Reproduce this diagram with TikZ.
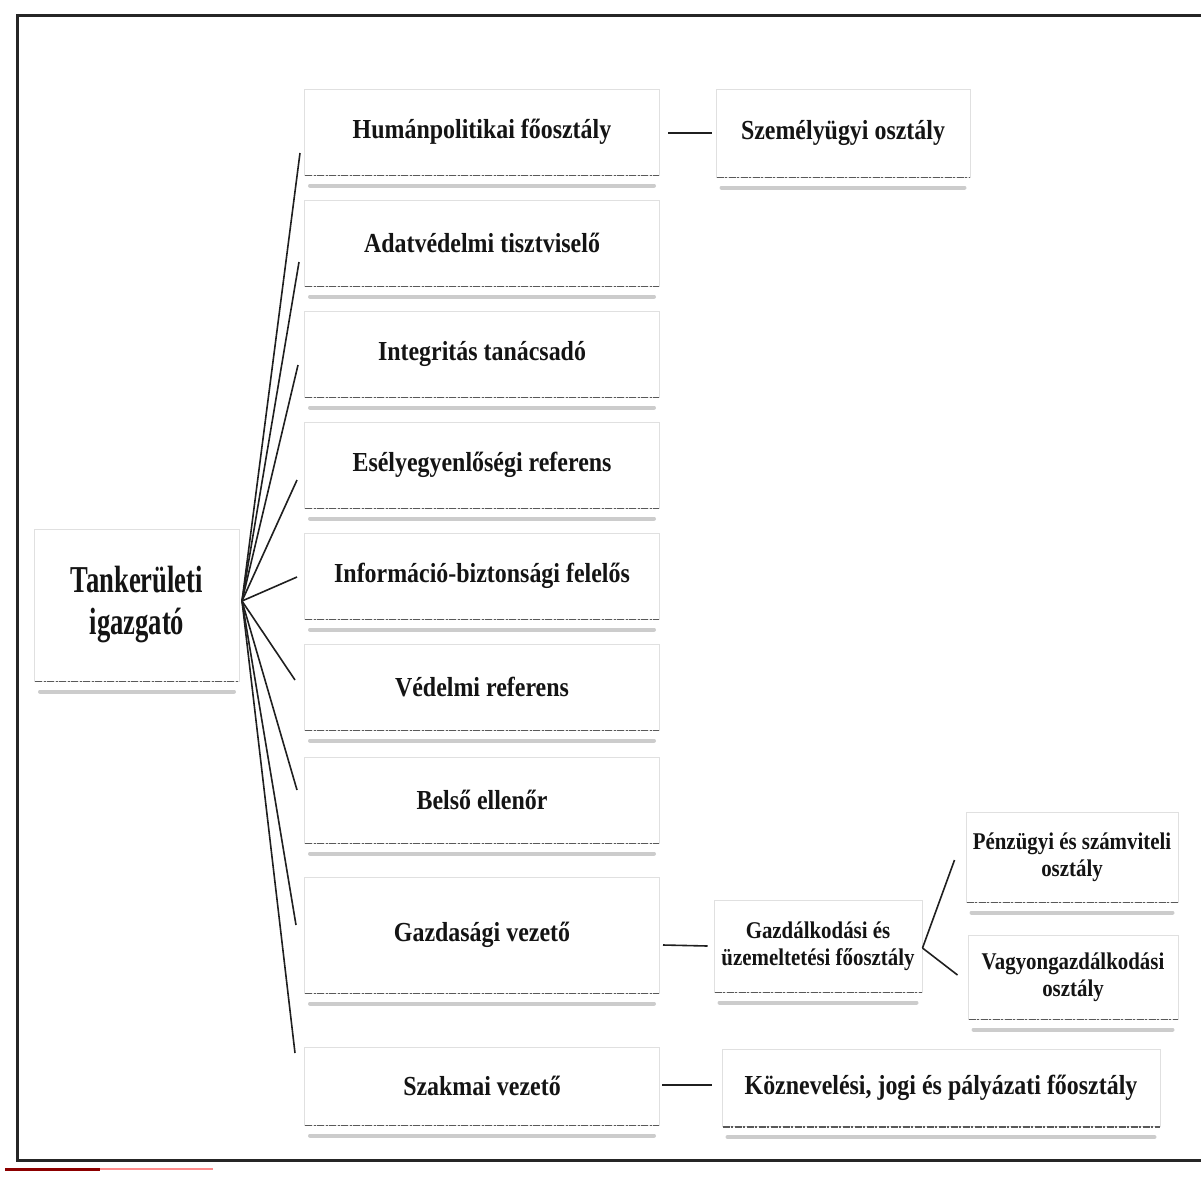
\documentclass[tikz,border=0pt]{standalone}
\usepackage{fontspec}
\setmainfont{Liberation Serif}
\newfontfamily\boxfont[FakeStretch=0.87]{Liberation Serif}
\newfontfamily\bigfont[FakeStretch=0.70]{Liberation Serif}
\usetikzlibrary{calc}
\begin{document}
\begin{tikzpicture}[x=1pt,y=-1pt,
  box/.style={draw=black!12, line width=1pt, fill=white, inner sep=2pt, text=black!92, align=center,
    font=\boxfont\bfseries\fontsize{27.5}{30}\selectfont},
  cbox/.style={box, minimum width=355pt, minimum height=86pt},
  sbox/.style={box, font=\boxfont\bfseries\fontsize{24}{27}\selectfont},
  link/.style={draw=black!88, line width=1.6pt},
  edgeline/.style={draw=black!65, line width=1.5pt, dash pattern=on 7pt off 1.5pt on 2pt off 1.5pt},
  shadowline/.style={draw=black!20, line width=4pt, line cap=round}]
\useasboundingbox (0,0) rectangle (1201,1183);
% frame
\draw[line width=3pt, black!85] (1205,15) -- (17,15) -- (17,1160) -- (1205,1160);
\draw[red!55!black, line width=3pt] (5,1169) -- (100,1169);
\draw[red!45, line width=1.5pt] (100,1169) -- (213,1169);
% root
\node[box, minimum width=205pt, minimum height=152pt,
  font=\bigfont\bfseries\fontsize{38}{42}\selectfont] (tank) at (137,605) {Tankerületi\\igazgató};
% centre column
\node[cbox] (hum)   at (482,132)  {Humánpolitikai főosztály};
\node[cbox] (adat)  at (482,243)  {Adatvédelmi tisztviselő};
\node[cbox] (integ) at (482,354)  {Integritás tanácsadó};
\node[cbox] (esely) at (482,465)  {Esélyegyenlőségi referens};
\node[cbox] (info)  at (482,576)  {Információ-biztonsági felelős};
\node[cbox] (ved)   at (482,687)  {Védelmi referens};
\node[cbox] (belso) at (482,800)  {Belső ellenőr};
\node[cbox, minimum height=116pt] (gazd) at (482,935) {Gazdasági vezető};
\node[cbox, minimum height=78pt] (szak) at (482,1086) {Szakmai vezető};
% right column
\node[box, minimum width=254pt, minimum height=88pt] (szem) at (843,133) {Személyügyi osztály};
\node[sbox, minimum width=208pt, minimum height=92pt] (gzf) at (818,946) {Gazdálkodási és\\üzemeltetési főosztály};
\node[sbox, minimum width=212pt, minimum height=90pt] (penz) at (1072,857) {Pénzügyi és számviteli\\osztály};
\node[sbox, minimum width=210pt, minimum height=84pt] (vagy) at (1073,977) {Vagyongazdálkodási\\osztály};
\node[box, minimum width=438pt, minimum height=77pt] (kozn) at (941,1088) {Köznevelési, jogi és pályázati főosztály};
% bottom edges and shadows
\foreach \n in {tank,hum,adat,integ,esely,info,ved,belso,gazd,szak,szem,gzf,penz,vagy,kozn}{
  \draw[edgeline] ($(\n.south west)+(1,0)$) -- ($(\n.south east)+(-1,0)$);
  \draw[shadowline] ($(\n.south west)+(6,10)$) -- ($(\n.south east)+(-6,10)$);
}
% connectors
\coordinate (hub) at ($(tank.east)+(2,-4)$);
\draw[link] (hub) -- ($(hum.west)+(-4,21)$);
\draw[link] (hub) -- ($(adat.west)+(-5,19)$);
\draw[link] (hub) -- ($(integ.west)+(-6,11)$);
\draw[link] (hub) -- ($(esely.west)+(-7,15)$);
\draw[link] (hub) -- ($(info.west)+(-7,1)$);
\draw[link] (hub) -- ($(ved.west)+(-9,-7)$);
\draw[link] (hub) -- ($(belso.west)+(-7,-10)$);
\draw[link] (hub) -- ($(gazd.west)+(-8,-10)$);
\draw[link] (hub) -- ($(szak.west)+(-9,-33)$);
\draw[link] ($(hum.east)+(8,1)$) -- ($(szem.west)+(-4,0)$);
\draw[link] ($(gazd.east)+(3,10)$) -- ($(gzf.west)+(-6,0)$);
\draw[link] ($(szak.east)+(2,-1)$) -- ($(kozn.west)+(-10,-3)$);
\draw[link] ($(gzf.east)+(0,2)$) -- ($(penz.west)+(-11,3)$);
\draw[link] ($(gzf.east)+(0,2)$) -- ($(vagy.west)+(-10,-2)$);
\end{tikzpicture}
\end{document}
